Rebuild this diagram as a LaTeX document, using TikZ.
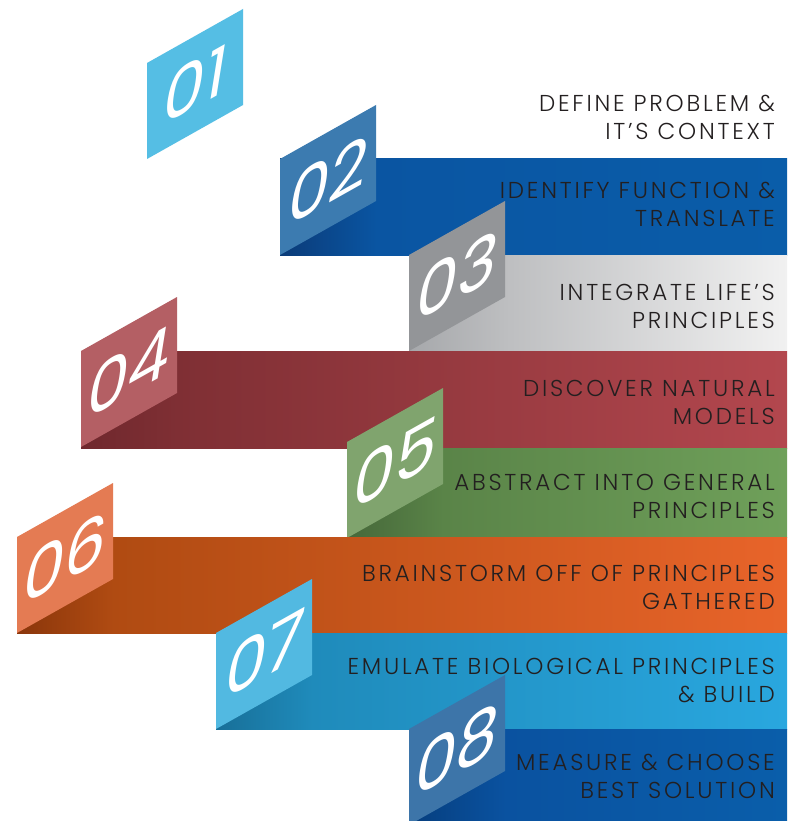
\documentclass[tikz,border=0pt]{standalone}
\usepackage{fontspec}
\newfontfamily\lblfont{Poppins Light}[LetterSpace=12]
\newfontfamily\numfont{Poppins Italic}
\definecolor{txtc}{HTML}{231F20}
% faces
\definecolor{fa}{HTML}{55BEE4}
\definecolor{fb}{HTML}{3C7BB0}
\definecolor{fc}{HTML}{939598}
\definecolor{fd}{HTML}{B45F64}
\definecolor{fe}{HTML}{80A46E}
\definecolor{ff}{HTML}{E47B53}
\definecolor{fg}{HTML}{52B9E1}
\definecolor{fh}{HTML}{3D75A9}
% bands dark / mid / light
\definecolor{bbd}{HTML}{0B3B78}\definecolor{bbm}{HTML}{0A55A2}\definecolor{bbl}{HTML}{0A5DA9}
\definecolor{bcd}{HTML}{A6A8AB}\definecolor{bcm}{HTML}{BDBEC0}\definecolor{bcl}{HTML}{F1F1F1}
\definecolor{bdd}{HTML}{6F282D}\definecolor{bdm}{HTML}{7F2F34}\definecolor{bdl}{HTML}{B3474E}
\definecolor{bed}{HTML}{46683A}\definecolor{bem}{HTML}{5A8448}\definecolor{bel}{HTML}{6FA05A}
\definecolor{bfd}{HTML}{8A360B}\definecolor{bfm}{HTML}{B04B12}\definecolor{bfl}{HTML}{E8642A}
\definecolor{bgd}{HTML}{186F98}\definecolor{bgm}{HTML}{1F8BBB}\definecolor{bgl}{HTML}{29A7DF}
\definecolor{bhd}{HTML}{063E7E}\definecolor{bhm}{HTML}{0A52A0}\definecolor{bhl}{HTML}{0A5EAA}
% #1 xl, #2 face top, #3 band top, #4 band bottom, #5 dark, #6 mid, #7 light
\newcommand\myband[7]{%
  \shade[left color=#5, right color=#6] (#1,#3) rectangle (#1+96.5,#4);
  \shade[left color=#6, right color=#7] (#1+96,#3) rectangle (787,#4);
}
% #1 xl, #2 face top, #3 colour, #4 number
\newcommand\myface[4]{%
  \fill[#3] (#1,#2) -- (#1+96,#2-54) -- (#1+96,#2+42) -- (#1,#2+96) -- cycle;
  \node[num] (n#4) at (#1+48,#2+21) {#4};
}
\begin{document}
\begin{tikzpicture}[x=1pt,y=-1pt,
  lbl/.style={anchor=east, align=right, inner sep=0pt, text=txtc,
    font=\lblfont\fontsize{23}{28}\selectfont},
  num/.style={text=white, inner sep=0pt, yslant=0.5625,
    font=\numfont\fontsize{66}{66}\selectfont}]
\useasboundingbox (0,0) rectangle (787,821);
\clip (0,0) rectangle (787,821);
\fill[white] (0,0) rectangle (787,821);
% step 1
\myface{147}{63}{fa}{01}
\node[lbl] (t1) at (775,117) {DEFINE PROBLEM \&\\IT’S CONTEXT};
% step 2
\myband{280}{159}{159}{255}{bbd}{bbm}{bbl}
\myface{280}{159}{fb}{02}
\node[lbl] (t2) at (775,204) {IDENTIFY FUNCTION \&\\TRANSLATE};
% step 3
\myband{409}{255}{255}{351}{bcd}{bcm}{bcl}
\myface{409}{255}{fc}{03}
\node[lbl] (t3) at (775,306) {INTEGRATE LIFE’S\\PRINCIPLES};
% step 4
\myband{81}{351}{351}{448}{bdd}{bdm}{bdl}
\myface{81}{351}{fd}{04}
\node[lbl] (t4) at (775,402) {DISCOVER NATURAL\\MODELS};
% step 5
\myband{347}{442}{448}{537}{bed}{bem}{bel}
\myface{347}{442}{fe}{05}
\node[lbl] (t5) at (775,496) {ABSTRACT INTO GENERAL\\PRINCIPLES};
% step 6
\myband{17}{537}{537}{633}{bfd}{bfm}{bfl}
\myface{17}{537}{ff}{06}
\node[lbl] (t6) at (775,587) {BRAINSTORM OFF OF PRINCIPLES\\GATHERED};
% step 7
\myband{216}{633}{633}{729}{bgd}{bgm}{bgl}
\myface{216}{633}{fg}{07}
\node[lbl] (t7) at (775,680) {EMULATE BIOLOGICAL PRINCIPLES\\\& BUILD};
% step 8
\myband{409}{729}{729}{825}{bhd}{bhm}{bhl}
\myface{409}{729}{fh}{08}
\node[lbl] (t8) at (775,776) {MEASURE \& CHOOSE\\BEST SOLUTION};
\end{tikzpicture}
\end{document}
